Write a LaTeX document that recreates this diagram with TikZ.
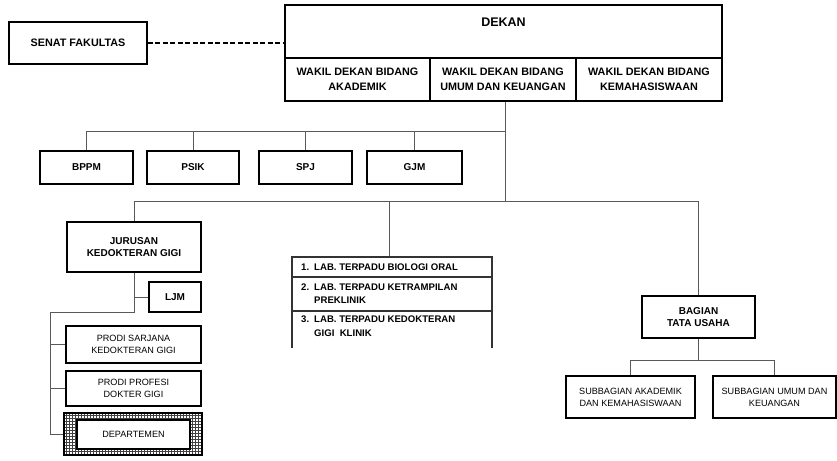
\documentclass[tikz,border=0pt]{standalone}
\usepackage{fontspec}
\setmainfont{Liberation Sans}
\usetikzlibrary{patterns,calc}
\begin{document}
\begin{tikzpicture}[x=1pt,y=-1pt,
  box/.style={draw=black,line width=1.6pt,fill=white,rectangle,inner sep=1pt,align=center,
    font=\fontsize{10}{12.5}\selectfont\bfseries},
  bigbox/.style={box,font=\fontsize{10.8}{15}\selectfont\bfseries},
  thinbox/.style={box,font=\fontsize{9.1}{12}\selectfont},
  conn/.style={draw=black!65,line width=0.9pt},
  dashline/.style={draw=black,line width=2.8pt,dash pattern=on 5pt off 2.5pt},
  labtxt/.style={anchor=west,inner sep=0pt,font=\fontsize{9.6}{11}\selectfont\bfseries}]
\useasboundingbox (0,0) rectangle (837,460);
\fill[white] (0,0) rectangle (837,460);

% top
\node[bigbox,minimum width=138pt,minimum height=42pt] (senat) at (78,43) {SENAT FAKULTAS};
\node[box,minimum width=437pt,minimum height=53pt] (dekan) at (503.5,31.5) {};
\node[font=\fontsize{12.5}{14}\selectfont\bfseries] (dekantxt) at (503.5,22) {DEKAN};
\node[bigbox,minimum width=145pt,minimum height=43pt] (w1) at (357.5,79.5) {WAKIL DEKAN BIDANG\\AKADEMIK};
\node[bigbox,minimum width=146pt,minimum height=43pt] (w2) at (503,79.5) {WAKIL DEKAN BIDANG\\UMUM DAN KEUANGAN};
\node[bigbox,minimum width=146pt,minimum height=43pt] (w3) at (649,79.5) {WAKIL DEKAN BIDANG\\KEMAHASISWAAN};
\draw[dashline] (senat.east) -- (senat.east -| dekan.west);

% staff row
\node[box,minimum width=93pt,minimum height=33pt] (bppm) at (86.5,167.5) {BPPM};
\node[box,minimum width=92pt,minimum height=33pt] (psik) at (193,167.5) {PSIK};
\node[box,minimum width=93pt,minimum height=33pt] (spj) at (305.5,167.5) {SPJ};
\node[box,minimum width=95pt,minimum height=33pt] (gjm) at (414.5,167.5) {GJM};
\coordinate (trunk1) at (505,131);
\coordinate (trunk2) at (505,201);
\draw[conn] (w2.south -| trunk1) -- (trunk2);
\draw[conn] (bppm.north |- trunk1) -- (trunk1);
\foreach \n in {bppm,psik,spj,gjm} \draw[conn] (\n.north |- trunk1) -- (\n.north);

% second level
\node[box,minimum width=134pt,minimum height=50pt] (jur) at (134,247) {JURUSAN\\KEDOKTERAN GIGI};
\coordinate (labtop) at (389,257);
\node[box,minimum width=113pt,minimum height=42pt] (tu) at (698.5,317) {BAGIAN\\TATA USAHA};
\draw[conn] (jur.north |- trunk2) -- (tu.north |- trunk2);
\draw[conn] (jur.north |- trunk2) -- (jur.north);
\draw[conn] (labtop |- trunk2) -- (labtop);
\draw[conn] (tu.north |- trunk2) -- (tu.north);

% lab box
\draw[draw=black!80,line width=1.1pt] (292,348) -- (292,257) -- (492,257) -- (492,348);
\draw[draw=black!80,line width=1.1pt] (292,277) -- (492,277);
\draw[draw=black!80,line width=1.1pt] (292,311) -- (492,311);
\node[labtxt] (n1) at (301,267) {1.};
\node[labtxt] (l1) at (314,267) {LAB. TERPADU BIOLOGI ORAL};
\node[labtxt] (n2) at (301,287) {2.};
\node[labtxt] (l2) at (314,287) {LAB. TERPADU KETRAMPILAN};
\node[labtxt] (l2b) at (314,300) {PREKLINIK};
\node[labtxt] (n3) at (301,319) {3.};
\node[labtxt] (l3) at (314,319) {LAB. TERPADU KEDOKTERAN};
\node[labtxt] (l3b) at (314,333) {GIGI\ \ KLINIK};

% jurusan subtree
\node[box,minimum width=52pt,minimum height=30pt] (ljm) at (175,297) {LJM};
\node[thinbox,minimum width=135pt,minimum height=37pt] (p1) at (133.5,344.5) {PRODI SARJANA\\KEDOKTERAN GIGI};
\node[thinbox,minimum width=135pt,minimum height=35pt] (p2) at (133.5,388.5) {PRODI PROFESI\\DOKTER GIGI};
\fill[pattern=grid,pattern color=black!75] (64,413) rectangle (202,455);
\node[draw=black,line width=1.6pt,minimum width=138pt,minimum height=42pt,inner sep=0pt] (dept) at (133,434) {};
\node[thinbox,minimum width=113pt,minimum height=29pt] (depti) at (133.5,434.5) {DEPARTEMEN};
\coordinate (jb) at (jur.south |- 0,312);
\coordinate (lv) at (50,312);
\draw[conn] (jur.south) -- (jb) -- (lv) -- (lv |- dept.west) -- (dept.west);
\draw[conn] (jur.south |- ljm.west) -- (ljm.west);
\draw[conn] (lv |- p1.west) -- (p1.west);
\draw[conn] (lv |- p2.west) -- (p2.west);

% tata usaha subtree
\node[thinbox,minimum width=129pt,minimum height=42pt] (s1) at (630.5,397) {SUBBAGIAN AKADEMIK\\DAN KEMAHASISWAAN};
\node[thinbox,minimum width=123pt,minimum height=42pt] (s2) at (774.5,397) {SUBBAGIAN UMUM DAN\\KEUANGAN};
\coordinate (tub) at (698.5,360);
\draw[conn] (tu.south) -- (tub);
\draw[conn] (s1.north |- tub) -- (s2.north |- tub);
\draw[conn] (s1.north |- tub) -- (s1.north);
\draw[conn] (s2.north |- tub) -- (s2.north);
\end{tikzpicture}
\end{document}
